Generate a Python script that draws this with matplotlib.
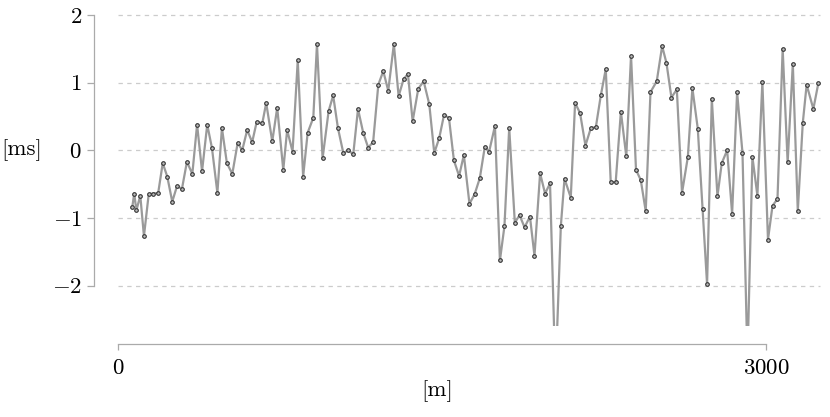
import numpy as np
import matplotlib
matplotlib.use("Agg")
import matplotlib.pyplot as plt

plt.rcParams['font.family'] = ['cmr10', 'DejaVu Serif']
plt.rcParams['mathtext.fontset'] = 'cm'
plt.rcParams['axes.formatter.use_mathtext'] = True

# station positions [m] and delay [ms]
dist_m = [66, 75, 85, 103, 120, 142, 163, 186, 207, 228,
          251, 273, 296, 319, 344, 366, 389, 413, 435, 460,
          481, 504, 529, 554, 575, 598, 621, 642, 668, 686,
          714, 737, 765, 783, 808, 832, 857, 878, 904, 921,
          947, 975, 996, 1018, 1043, 1066, 1089, 1111, 1135, 1158,
          1181, 1205, 1228, 1251, 1277, 1299, 1322, 1342, 1364, 1390,
          1415, 1441, 1464, 1487, 1509, 1532, 1555, 1579, 1601, 1627,
          1651, 1675, 1698, 1718, 1745, 1768, 1789, 1811, 1837, 1859,
          1882, 1907, 1928, 1954, 1977, 2000, 2025, 2050, 2067, 2096,
          2116, 2139, 2164, 2189, 2212, 2235, 2258, 2281, 2304, 2328,
          2353, 2375, 2398, 2420, 2443, 2465, 2494, 2519, 2539, 2562,
          2587, 2611, 2638, 2659, 2684, 2706, 2727, 2749, 2775, 2795,
          2820, 2843, 2866, 2891, 2914, 2937, 2960, 2983, 3009, 3030,
          3053, 3077, 3100, 3124, 3147, 3170, 3188, 3219, 3242]

delay_ms = [-0.84, -0.64, -0.89, -0.67, -1.27, -0.65, -0.64, -0.63, -0.19, -0.39,
            -0.76, -0.53, -0.57, -0.17, -0.35, 0.38, -0.31, 0.38, 0.03, -0.63,
            0.33, -0.19, -0.35, 0.11, 0.00, 0.30, 0.12, 0.42, 0.40, 0.70,
            0.13, 0.63, -0.29, 0.30, -0.02, 1.33, -0.39, 0.26, 0.48, 1.57,
            -0.12, 0.58, 0.81, 0.33, -0.04, 0.00, -0.06, 0.61, 0.26, 0.04,
            0.12, 0.97, 1.17, 0.88, 1.57, 0.80, 1.05, 1.13, 0.43, 0.91,
            1.02, 0.68, -0.04, 0.18, 0.52, 0.48, -0.15, -0.38, -0.07, -0.79,
            -0.65, -0.41, 0.05, -0.02, 0.36, -1.63, -1.12, 0.33, -1.07, -0.96,
            -1.14, -0.98, -1.56, -0.34, -0.64, -0.49, -3.35, -1.12, -0.42, -0.70,
            0.70, 0.55, 0.07, 0.33, 0.34, 0.81, 1.20, -0.47, -0.47, 0.57,
            -0.09, 1.40, -0.29, -0.44, -0.90, 0.86, 1.02, 1.54, 1.29, 0.78,
            0.90, -0.63, -0.10, 0.92, 0.32, -0.87, -1.98, 0.76, -0.68, -0.19,
            0.00, -0.94, 0.86, -0.04, -3.10, -0.10, -0.67, 1.01, -1.32, -0.82,
            -0.72, 1.50, -0.18, 1.28, -0.90, 0.40, 0.97, 0.61, 0.99]

x_ticks = [0, 3000]
y_ticks = [-2, -1, 0, 1, 2]

fig = plt.figure(figsize=(8.3, 4.17), dpi=100)
ax = fig.add_axes([0.1422, 0.218, 0.8458, 0.746])

ax.plot(dist_m, delay_ms, color='#9a9a9a', lw=1.6, zorder=3,
        marker='o', ms=2.6, mfc='#bbbbbb', mec='#333333', mew=0.8)

ax.set_xlim(0, 3250)
ax.set_ylim(-2.6, 2.0)
ax.set_xticks(x_ticks)
ax.set_yticks(y_ticks)

for yv in y_ticks:
    ax.axhline(yv, color='#cccccc', lw=0.9, ls=(0, (3.5, 3.5)), zorder=1, clip_on=False)

ax.spines['top'].set_visible(False)
ax.spines['right'].set_visible(False)
ax.spines['left'].set_position(('outward', 17))
ax.spines['left'].set_bounds(-2, 2)
ax.spines['bottom'].set_position(('outward', 13))
ax.spines['bottom'].set_bounds(0, 3000)
for s in ['left', 'bottom']:
    ax.spines[s].set_color('#aaaaaa')
    ax.spines[s].set_linewidth(0.9)

ax.tick_params(axis='both', colors='#aaaaaa', labelcolor='black', labelsize=16.5, width=0.9)
ax.tick_params(axis='y', length=5, pad=4)
ax.tick_params(axis='x', length=4.5, pad=6)

ax.set_xlabel('[m]', fontsize=16.5)
ax.xaxis.set_label_coords(0.454, -0.175)
ax.set_ylabel('[ms]', fontsize=16.5, rotation=0, va='center', ha='center')
ax.yaxis.set_label_coords(-0.137, 0.566)

fig.savefig('out.png', dpi=100)
